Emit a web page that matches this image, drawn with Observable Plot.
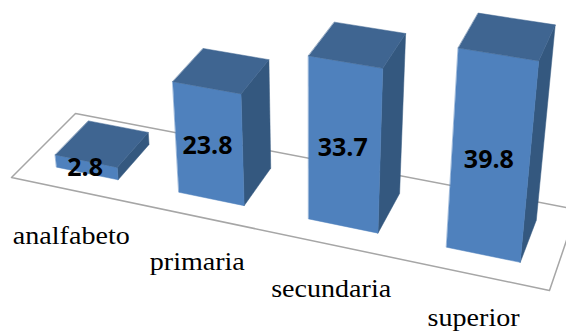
<!DOCTYPE html>
<html>
<head>
<meta charset="utf-8">
<style>
  html, body { margin: 0; padding: 0; background: #fff; }
</style>
<script src="https://cdn.jsdelivr.net/npm/d3@7"></script>
<script src="https://cdn.jsdelivr.net/npm/@observablehq/plot@0.6"></script>
</head>
<body>
<div id="chart"></div>
<script>
const categories = ["analfabeto", "primaria", "secundaria", "superior"];
const values = [2.8, 23.8, 33.7, 39.8];

// Bars occupy this fraction of a category slot and this depth range of the floor.
const barFraction = 0.51;
const depthRange = [0.24, 0.77];

// Pinhole camera: floor coordinates (across, deep) plus height map to the page.
const cam = {a: 474.3, b: 69.93, c: 11, d: 79.4, e: -55.06, f: 177, g: -0.116, h: 0.0791};
const verticalVanish = [310, 2550];
const heightUnit = -0.00185;

// Category names fan out slightly wider than the bars they sit under.
const labelSpread = 1.016;

function project(u, v, z) {
  const t = heightUnit * z;
  const w = cam.g * u + cam.h * v + 1 + t;
  return {
    x: (cam.a * u + cam.b * v + cam.c + t * verticalVanish[0]) / w,
    y: (cam.d * u + cam.e * v + cam.f + t * verticalVanish[1]) / w
  };
}

const floor = [[0, 0], [1, 0], [1, 1], [0, 1], [0, 0]].map(([u, v]) => project(u, v, 0));

const slot = 1 / categories.length;
const bars = categories.map((name, i) => {
  const center = (i + 0.5) * slot;
  return {
    name,
    value: values[i],
    u0: center - slot * barFraction / 2,
    u1: center + slot * barFraction / 2,
    uc: center
  };
});

const [v0, v1] = depthRange;
const face = (b, corners) => corners.map(([u, v, z]) => ({name: b.name, ...project(u, v, z)}));

const frontFaces = bars.flatMap((b) =>
  face(b, [[b.u0, v0, 0], [b.u1, v0, 0], [b.u1, v0, b.value], [b.u0, v0, b.value]]));
const sideFaces = bars.flatMap((b) =>
  face(b, [[b.u1, v0, 0], [b.u1, v1, 0], [b.u1, v1, b.value], [b.u1, v0, b.value]]));
const topFaces = bars.flatMap((b) =>
  face(b, [[b.u0, v0, b.value], [b.u1, v0, b.value], [b.u1, v1, b.value], [b.u0, v1, b.value]]));

const valueLabels = bars.map((b) => ({text: b.value.toFixed(1), ...project(b.uc, v0, b.value / 2)}));
const categoryLabels = bars.map((b) => ({
  text: b.name,
  ...project(0.5 + (b.uc - 0.5) * labelSpread, v0, 0)
}));

// Widens glyphs about each label's own anchor.
const widen = (factor) => (index, scales, values, dims, context, next) => {
  const g = next(index, scales, values, dims, context);
  d3.select(g).selectAll("text").attr("transform", function () {
    return `${this.getAttribute("transform") || ""} scale(${factor},1)`;
  });
  return g;
};

const faceStyle = (color) => ({
  x: "x", y: "y", z: "name", fill: color, stroke: color, strokeWidth: 0.5, curve: "linear-closed"
});

const plot = Plot.plot({
  width: 566,
  height: 332,
  margin: 0,
  style: {background: "#fff"},
  x: {domain: [0, 566], range: [0, 566], axis: null},
  y: {domain: [0, 332], range: [0, 332], axis: null},
  marks: [
    Plot.line(floor, {x: "x", y: "y", fill: "#fff", stroke: "#a6a6a6", strokeWidth: 1.5, curve: "linear"}),
    Plot.line(sideFaces, faceStyle("#34587f")),
    Plot.line(frontFaces, faceStyle("#4f81bd")),
    Plot.line(topFaces, faceStyle("#3f6591")),
    Plot.text(categoryLabels, {
      x: "x", y: "y", text: "text", dx: -13, dy: 62.5,
      fontFamily: "Liberation Serif", fontSize: 26, fill: "#000",
      render: widen(1.08)
    }),
    Plot.text(valueLabels, {
      x: "x", y: "y", text: "text", dx: -1.5, dy: 1,
      fontFamily: "Open Sans", fontWeight: 700, fontSize: 25, fill: "#000"
    })
  ]
});
document.getElementById("chart").appendChild(plot);
</script>
</body>
</html>
